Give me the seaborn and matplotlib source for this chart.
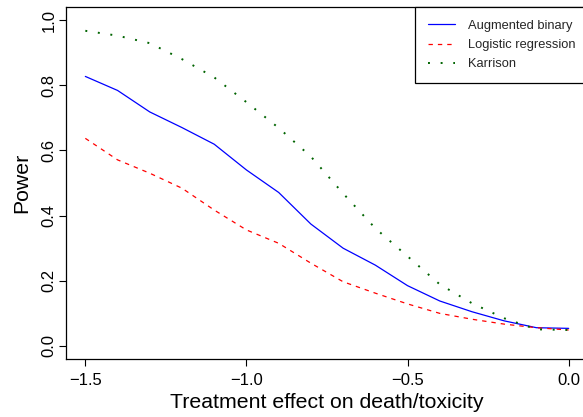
import numpy as np
import pandas as pd
import matplotlib
matplotlib.use("Agg")
import matplotlib.pyplot as plt
import seaborn as sns

effect = [-1.5, -1.4, -1.3, -1.2, -1.1, -1.0, -0.9, -0.8, -0.7, -0.6, -0.5, -0.4, -0.3, -0.2, -0.1, 0.0]
augmented = [0.827, 0.784, 0.718, 0.670, 0.619, 0.540, 0.471, 0.374, 0.300, 0.248, 0.185, 0.138, 0.105, 0.077, 0.056, 0.054]
logistic = [0.637, 0.571, 0.530, 0.484, 0.417, 0.356, 0.315, 0.254, 0.197, 0.162, 0.129, 0.100, 0.082, 0.067, 0.056, 0.049]
karrison = [0.967, 0.952, 0.929, 0.880, 0.824, 0.748, 0.669, 0.581, 0.468, 0.361, 0.275, 0.189, 0.131, 0.085, 0.051, 0.049]
series_names = ["Augmented binary", "Logistic regression", "Karrison"]
x_ticks = [-1.5, -1.0, -0.5, 0.0]
y_ticks = [0.0, 0.2, 0.4, 0.6, 0.8, 1.0]

sns.set_theme(style="ticks")
plt.rcParams["font.family"] = ["Liberation Sans", "DejaVu Sans"]

df = pd.DataFrame({
    "effect": effect * 3,
    "power": augmented + logistic + karrison,
    "method": sum([[n] * len(effect) for n in series_names], []),
})

fig = plt.figure(figsize=(5.83, 4.17), dpi=100)
W, H = 583, 417
left, right, top, bottom = 66, 588, 7, 359
ax = fig.add_axes([left / W, 1 - bottom / H, (right - left) / W, (bottom - top) / H])

styles = {
    "Augmented binary": dict(color="#0000FF", linestyle="-", linewidth=0.9),
    "Logistic regression": dict(color="#FF0000", linestyle=(0, (3.5, 4)), linewidth=0.9),
    "Karrison": dict(color="#006400", linestyle=(0, (1, 5.5)), linewidth=1.4),
}
for name in series_names:
    sub = df[df["method"] == name]
    sns.lineplot(data=sub, x="effect", y="power", ax=ax, label=name, **styles[name])

ax.set_xlim(-1.56, 0.06)
ax.set_ylim(-0.04, 1.04)
ax.set_xticks(x_ticks)
ax.set_xticklabels(["\u22121.5", "\u22121.0", "\u22120.5", "0.0"])
ax.set_yticks(y_ticks)
ax.set_yticklabels([f"{v:.1f}" for v in y_ticks])
for lab in ax.get_yticklabels():
    lab.set_rotation(90)
    lab.set_va("center")
ax.tick_params(axis="both", direction="out", length=5, width=0.8, color="black",
               labelsize=12, labelcolor="black")
ax.tick_params(axis="x", pad=5)
ax.tick_params(axis="y", pad=2)
for s in ax.spines.values():
    s.set_visible(True)
    s.set_color("black")
    s.set_linewidth(0.9)
ax.set_xlabel("Treatment effect on death/toxicity", fontsize=15.3, color="black", labelpad=4)
ax.set_ylabel("Power", fontsize=15.3, color="black", labelpad=7)

leg = ax.legend(loc="upper right", bbox_to_anchor=(1, 1), borderaxespad=0,
                fontsize=9.3, handlelength=2.1, handletextpad=1.0, borderpad=1.0,
                labelspacing=0.55, fancybox=False, framealpha=1, edgecolor="black")
leg.get_frame().set_linewidth(0.9)

fig.savefig("out.png", dpi=100)
